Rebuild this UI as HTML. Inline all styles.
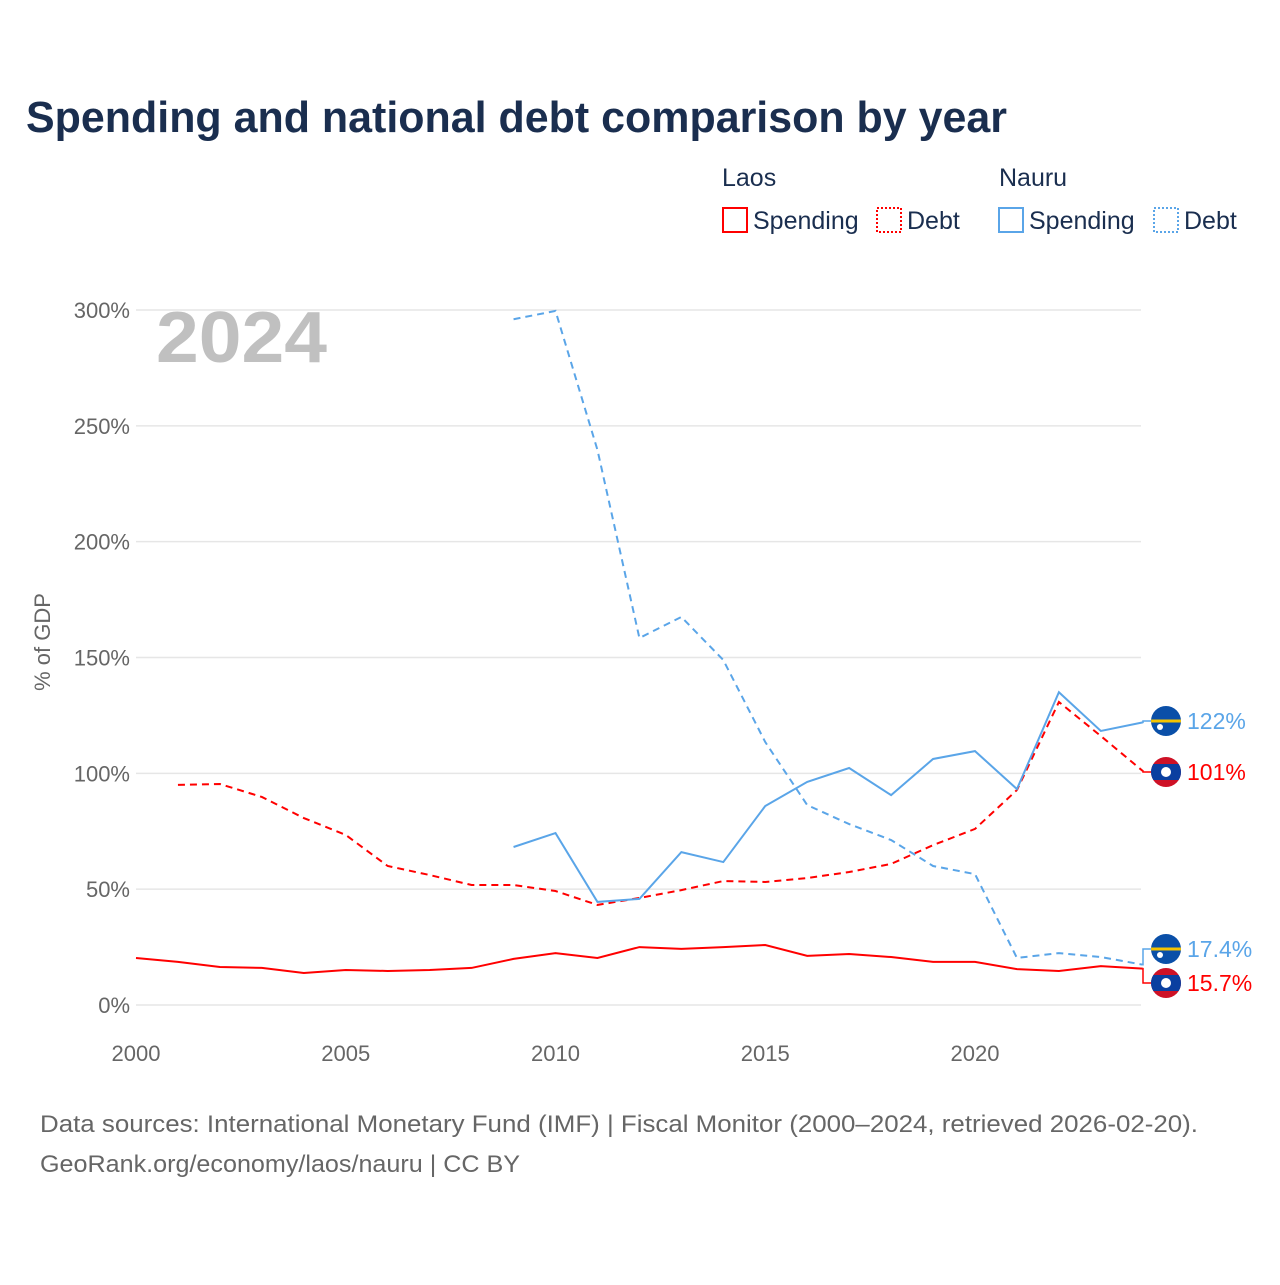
<!DOCTYPE html>
<html><head><meta charset="utf-8"><style>
body{margin:0;background:#fff;font-family:"Liberation Sans",sans-serif}
svg text{font-family:"Liberation Sans",sans-serif}
</style></head><body>
<svg id="chart" width="1280" height="1280" viewBox="0 0 1280 1280" xmlns="http://www.w3.org/2000/svg">
<text x="26" y="132" font-size="44" font-weight="bold" fill="#1a2e4f" textLength="981" lengthAdjust="spacingAndGlyphs">Spending and national debt comparison by year</text>
<g font-size="25" fill="#1a2e4f">
<text x="722" y="186">Laos</text>
<text x="999" y="186">Nauru</text>
<rect x="723" y="208" width="24" height="24" fill="none" stroke="#ff0000" stroke-width="2"/>
<text x="753" y="229">Spending</text>
<rect x="877" y="208" width="24" height="24" fill="none" stroke="#ff0000" stroke-width="2" stroke-dasharray="2,2"/>
<text x="907" y="229">Debt</text>
<rect x="999" y="208" width="24" height="24" fill="none" stroke="#5aa5e8" stroke-width="2"/>
<text x="1029" y="229">Spending</text>
<rect x="1154" y="208" width="24" height="24" fill="none" stroke="#5aa5e8" stroke-width="2" stroke-dasharray="2,2"/>
<text x="1184" y="229">Debt</text>
</g>
<text x="156" y="362" font-size="72" font-weight="bold" fill="#c0c0c0" textLength="171" lengthAdjust="spacingAndGlyphs">2024</text>
<text transform="translate(50,642) rotate(-90)" text-anchor="middle" font-size="22" fill="#666">% of GDP</text>
<g id="grid"></g><g id="lines"></g><g id="ends"></g>
<text x="40" y="1132" font-size="24" fill="#666" textLength="1158" lengthAdjust="spacingAndGlyphs">Data sources: International Monetary Fund (IMF) | Fiscal Monitor (2000–2024, retrieved 2026-02-20).</text>
<text x="40" y="1172" font-size="24" fill="#666" textLength="480" lengthAdjust="spacingAndGlyphs">GeoRank.org/economy/laos/nauru | CC BY</text>
</svg>
<script>
const yTicks=[0,50,100,150,200,250,300];
const xTicks=[2000,2005,2010,2015,2020];
const laosSpendYears=[2000,2001,2002,2003,2004,2005,2006,2007,2008,2009,2010,2011,2012,2013,2014,2015,2016,2017,2018,2019,2020,2021,2022,2023,2024];
const laosSpend=[20.3,18.6,16.4,16.0,13.8,15.1,14.7,15.1,16.0,19.9,22.4,20.3,25.0,24.2,25.0,25.9,21.2,22.0,20.7,18.6,18.6,15.5,14.7,16.8,15.7];
const laosDebtYears=[2001,2002,2003,2004,2005,2006,2007,2008,2009,2010,2011,2012,2013,2014,2015,2016,2017,2018,2019,2020,2021,2022,2023,2024];
const laosDebt=[95,95.4,89.8,80.7,73.4,60,56.1,51.8,51.8,49.2,43.2,46.2,49.6,53.5,53.1,54.8,57.4,60.9,69,76,92.8,130.8,116.1,101];
const nauruYears=[2009,2010,2011,2012,2013,2014,2015,2016,2017,2018,2019,2020,2021,2022,2023,2024];
const nauruSpend=[68.2,74.2,44.5,45.8,66,61.7,85.9,96.3,102.3,90.6,106.2,109.6,93.2,135,118.3,122];
const nauruDebt=[296,299.6,239.6,158.4,167.5,148.9,113.5,86.3,78.1,71.2,60,56.5,20.3,22.4,20.7,17.4];
const X=y=>136+(y-2000)*41.95;
const Y=v=>1005-v*2.3167;
const NS="http://www.w3.org/2000/svg";
function mk(t,a,p){const e=document.createElementNS(NS,t);for(const k in a)e.setAttribute(k,a[k]);p.appendChild(e);return e;}
const grid=document.getElementById('grid');
yTicks.forEach(v=>{
 const l=mk('line',{x1:136,x2:1141,y1:Y(v),y2:Y(v),stroke:'#e6e6e6','stroke-width':1.5},grid);
 
 
 const t=mk('text',{x:130,y:Y(v)+8,'text-anchor':'end','font-size':22,fill:'#666'},grid);t.textContent=v+'%';
 
 
});
xTicks.forEach(v=>{
 const t=mk('text',{x:X(v),y:1061,'text-anchor':'middle','font-size':22,fill:'#666'},grid);t.textContent=v;
 
 
});
const lines=document.getElementById('lines');
function series(xs,vs,col,dash,name){
 const p=mk('polyline',{points:xs.map((x,i)=>X(x)+','+Y(vs[i])).join(' '),fill:'none',stroke:col,'stroke-width':2,'stroke-dasharray':dash},lines);
 
 
}
const RED='#ff0000',BLUE='#5aa5e8';
series(laosSpendYears,laosSpend,RED,'none','laos-spending-line');
series(laosDebtYears,laosDebt,RED,'7,5','laos-debt-line');
series(nauruYears,nauruSpend,BLUE,'none','nauru-spending-line');
series(nauruYears,nauruDebt,BLUE,'7,5','nauru-debt-line');
const ends=document.getElementById('ends');
function flag(cy,kind){
 const g=mk('g',{},ends);
 
 
 const id='c'+Math.round(cy);
 const cp=mk('clipPath',{id:id},g);mk('circle',{cx:1166,cy:cy,r:15},cp);
 const gg=mk('g',{'clip-path':'url(#'+id+')'},g);
 if(kind==='nauru'){
  mk('rect',{x:1150,y:cy-16,width:32,height:32,fill:'#0a4fa8'},gg);
  mk('rect',{x:1150,y:cy-1.5,width:32,height:3,fill:'#f5c400'},gg);
  mk('circle',{cx:1160,cy:cy+6,r:3,fill:'#fff'},gg);
 }else{
  mk('rect',{x:1150,y:cy-16,width:32,height:32,fill:'#ce1126'},gg);
  mk('rect',{x:1150,y:cy-8,width:32,height:16,fill:'#0a3fa0'},gg);
  mk('circle',{cx:1166,cy:cy,r:5,fill:'#fff'},gg);
 }
}
function endLabel(v,ly,col,txt,kind,name){
 const c=mk('polyline',{points:X(2024)+','+Y(v)+' 1143,'+Y(v)+' 1143,'+ly+' 1151,'+ly,fill:'none',stroke:col,'stroke-width':1.5},ends);
 
 
 flag(ly,kind);
 const t=mk('text',{x:1187,y:ly+8,'font-size':23,fill:col},ends);t.textContent=txt;
 
 
}
endLabel(nauruSpend[nauruSpend.length-1],721,BLUE,'122%','nauru','nauru-spending');
endLabel(laosDebt[laosDebt.length-1],772,RED,'101%','laos','laos-debt');
endLabel(nauruDebt[nauruDebt.length-1],949,BLUE,'17.4%','nauru','nauru-debt');
endLabel(laosSpend[laosSpend.length-1],983,RED,'15.7%','laos','laos-spending');
</script>
</body></html>
